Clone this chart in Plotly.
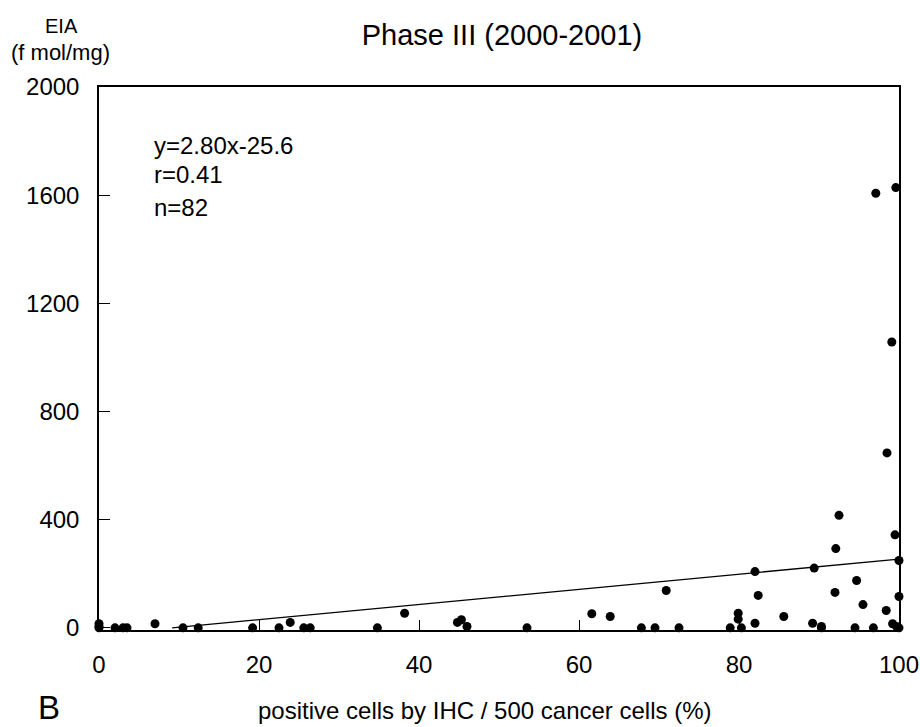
import plotly.graph_objects as go

# IHC positive cells (%) vs EIA (f mol/mg)
ihc_pct = [0, 0, 0, 2, 3, 3.5, 7, 10.5, 12.4, 19.2, 22.5, 23.9, 25.6, 26.4, 34.8, 38.2,
           44.8, 45.3, 46, 53.5, 61.6, 63.9, 67.8, 69.5, 70.9, 72.5, 78.9, 79.9, 79.9,
           80.3, 82, 82, 82.4, 85.6, 89.2, 89.4, 90.3, 90.3, 92, 92.1, 92.5, 94.5, 94.7,
           95.5, 96.8, 98.4, 99.2, 99.5, 99.7, 100, 100, 100, 97.1, 99.6, 99.1, 98.5]
eia = [15, 5, 0, 0, 0, 0, 15, 0, 0, 0, 0, 20, 0, 0, 0, 54,
       20, 30, 5, 0, 52, 42, 0, 0, 138, 0, 0, 54, 32,
       0, 208, 17, 120, 42, 17, 221, 5, 0, 131, 293, 416, 0, 175,
       86, 0, 64, 15, 344, 5, 0, 249, 116, 1607, 1628, 1057, 647]

# regression reported in the figure
slope = 2.80
intercept = -25.6
fit_x = [-intercept / slope, 100]
fit_y = [slope * v + intercept for v in fit_x]

x_ticks = [0, 20, 40, 60, 80, 100]
y_ticks = [0, 400, 800, 1200, 1600, 2000]

FONT = "Liberation Sans, Arial, Helvetica, sans-serif"
W, H = 920, 727

fig = go.Figure()
fig.add_trace(go.Scatter(x=fit_x, y=fit_y, mode='lines',
                         line=dict(color='black', width=1.3), showlegend=False))
fig.add_trace(go.Scatter(x=ihc_pct, y=eia, mode='markers',
                         marker=dict(color='black', size=9), showlegend=False,
                         cliponaxis=False))

fig.update_xaxes(range=[0, 100], tickvals=x_ticks, ticks='inside', ticklen=10,
                 tickwidth=1.3, tickcolor='black', showline=True, linecolor='black',
                 linewidth=1.5, mirror=True, showgrid=False, zeroline=False,
                 automargin=False, ticklabeloverflow='allow',
                 ticklabelstandoff=12, tickfont=dict(size=24, color='black'))
fig.update_yaxes(range=[-8, 2000], tickvals=y_ticks, ticks='inside', ticklen=11,
                 tickwidth=1.3, tickcolor='black', showline=True, linecolor='black',
                 linewidth=1.5, mirror=True, showgrid=False, zeroline=False,
                 automargin=False,
                 ticklabelstandoff=13, tickfont=dict(size=24, color='black'))

ann = dict(xref='paper', yref='paper', showarrow=False, font=dict(family=FONT, color='black'))
fig.add_annotation(ann, x=0.066, y=0.893, text='y=2.80x-25.6', xanchor='left', yanchor='middle',
                   font_size=24)
fig.add_annotation(ann, x=0.066, y=0.838, text='r=0.41', xanchor='left', yanchor='middle',
                   font_size=24)
fig.add_annotation(ann, x=0.066, y=0.779, text='n=82', xanchor='left', yanchor='middle',
                   font_size=24)
fig.add_annotation(ann, x=-0.047, y=1.112, text='EIA', xanchor='center', yanchor='middle',
                   font_size=20)
fig.add_annotation(ann, x=-0.048, y=1.064, text='(f mol/mg)', xanchor='center', yanchor='middle',
                   font_size=22)
fig.add_annotation(ann, x=0.4825, y=-0.149, text='positive cells by IHC / 500 cancer cells (%)',
                   xanchor='center', yanchor='middle', font_size=24)
fig.add_annotation(ann, x=-0.0625, y=-0.142, text='B', xanchor='center', yanchor='middle',
                   font_size=33)

fig.update_layout(
    width=W - 16, height=H - 16,
    margin=dict(l=99, r=21, t=87, b=97),
    paper_bgcolor='white', plot_bgcolor='white',
    font=dict(family=FONT, color='black'),
    title=dict(text='Phase III (2000-2001)', x=502 / W, xanchor='center',
               y=1 - 35 / H, yanchor='middle', font=dict(size=29, color='black')),
)

# page loads at 920x727 including the 8px body margin; then drop the margin
# and grow the figure to the full window
post = ("document.body.style.margin='0';"
        "Plotly.relayout(document.getElementById('{plot_id}'), {width: %d, height: %d});" % (W, H))
fig.write_html("out.html", config={'displayModeBar': False}, post_script=post)
